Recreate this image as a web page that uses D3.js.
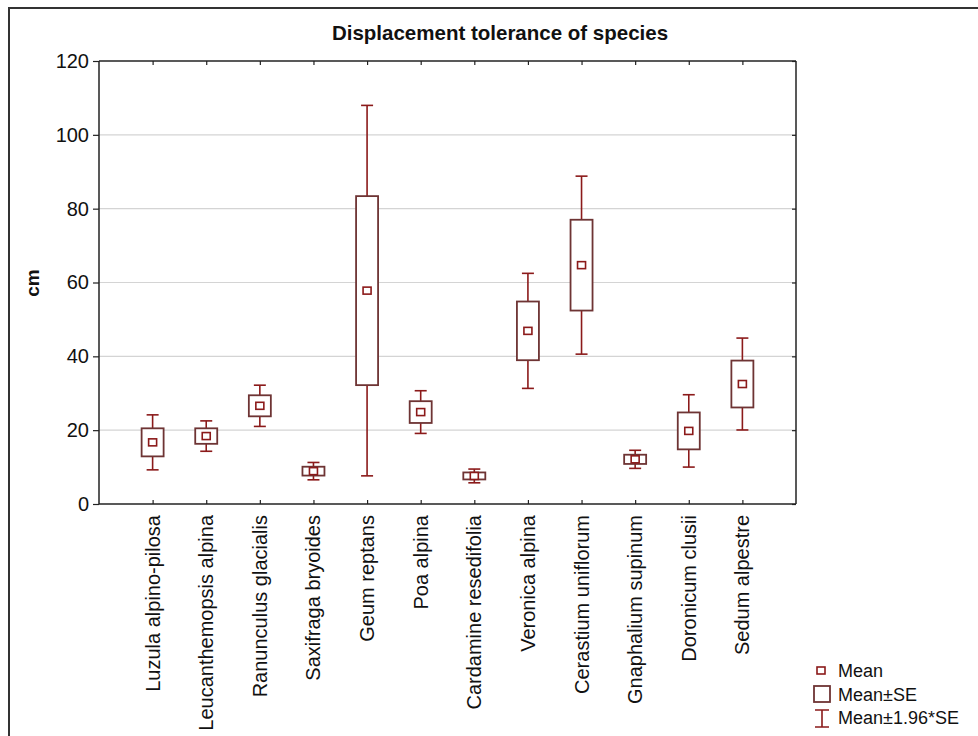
<!DOCTYPE html>
<html>
<head>
<meta charset="utf-8">
<script src="https://cdn.jsdelivr.net/npm/d3@7"></script>
<style>
  body { margin: 0; background: #fff; }
  text { font-family: 'Liberation Sans', Arial, sans-serif; fill: #111; }
</style>
</head>
<body>
<script>
const species = ['Luzula alpino-pilosa', 'Leucanthemopsis alpina', 'Ranunculus glacialis', 'Saxifraga bryoides',
  'Geum reptans', 'Poa alpina', 'Cardamine resedifolia', 'Veronica alpina', 'Cerastium uniflorum',
  'Gnaphalium supinum', 'Doronicum clusii', 'Sedum alpestre'];
const means = [16.7, 18.4, 26.6, 8.9, 57.8, 24.9, 7.6, 46.9, 64.7, 12.1, 19.8, 32.5];
const se = [3.8, 2.1, 2.85, 1.2, 25.6, 2.95, 0.95, 7.95, 12.3, 1.25, 5.0, 6.35];
const yTicks = [0, 20, 40, 60, 80, 100, 120];
const legendLabels = ['Mean', 'Mean±SE', 'Mean±1.96*SE'];

const width = 978;
const height = 736;
const boxColor = '#6e3434';
const whiskColor = '#8b1a1a';

let data = species.map((s, i) => ({ name: s, mean: means[i], se: se[i] }));

let svg = d3.select('body').append('svg')
  .attr('width', width)
  .attr('height', height);

// outer frame (only left and top visible in the picture)
svg.append('path')
  .attr('d', 'M9,' + height + ' V8 H' + width)
  .attr('fill', 'none')
  .attr('stroke', '#333')
  .attr('stroke-width', 2);

let x = d3.scalePoint().domain(species).range([99, 796]).padding(1);
let y = d3.scaleLinear().domain([0, 120]).range([504, 61]);

// gridlines
svg.append('g')
  .selectAll('line')
  .data(yTicks.filter(t => t > 0 && t < 120))
  .enter().append('line')
  .attr('x1', 99).attr('x2', 796)
  .attr('y1', d => y(d)).attr('y2', d => y(d))
  .attr('stroke', '#d4d4d4')
  .attr('stroke-width', 1.2);

// axes
let yAxis = svg.append('g')
  .attr('transform', 'translate(99,0)')
  .call(d3.axisLeft(y).tickValues(yTicks).tickSize(6).tickPadding(4));
yAxis.selectAll('text').style('font-size', '20px');

let yRight = svg.append('g')
  .attr('transform', 'translate(796,0)')
  .call(d3.axisLeft(y).tickValues(yTicks).tickSize(4).tickFormat(''));

let xBottom = svg.append('g')
  .attr('transform', 'translate(0,504)')
  .call(d3.axisTop(x).tickSize(4).tickFormat(''));

let xTop = svg.append('g')
  .attr('transform', 'translate(0,61)')
  .call(d3.axisBottom(x).tickSize(4).tickFormat(''));

[yAxis, yRight, xBottom, xTop].forEach(g => {
  g.selectAll('.domain').attr('stroke', '#222').attr('stroke-width', 1.5);
  g.selectAll('.tick line').attr('stroke', '#222').attr('stroke-width', 1.2);
});
yAxis.selectAll('.domain').attr('d', 'M0,61V504');
yRight.selectAll('.domain').attr('d', 'M0,61V504');
xBottom.selectAll('.domain').attr('d', 'M99,0H796');
xTop.selectAll('.domain').attr('d', 'M99,0H796');

// x labels, rotated
svg.append('g')
  .selectAll('text')
  .data(species)
  .enter().append('text')
  .attr('transform', d => 'translate(' + (x(d) + 7) + ',515) rotate(-90)')
  .attr('text-anchor', 'end')
  .style('font-size', '20px')
  .text(d => d);

// title and y label
svg.append('text')
  .attr('x', 500).attr('y', 40)
  .attr('text-anchor', 'middle')
  .style('font-size', '20.5px')
  .style('font-weight', 'bold')
  .text('Displacement tolerance of species');

svg.append('text')
  .attr('transform', 'translate(39,283) rotate(-90)')
  .attr('text-anchor', 'middle')
  .style('font-size', '19px')
  .style('font-weight', 'bold')
  .text('cm');

// whiskers
let groups = svg.append('g')
  .selectAll('.species')
  .data(data)
  .enter().append('g')
  .attr('class', 'species');

groups.append('line')
  .attr('x1', d => x(d.name)).attr('x2', d => x(d.name))
  .attr('y1', d => y(d.mean + 1.96 * d.se))
  .attr('y2', d => y(d.mean - 1.96 * d.se))
  .attr('stroke', whiskColor).attr('stroke-width', 1.6);

[1, -1].forEach(k => {
  groups.append('line')
    .attr('x1', d => x(d.name) - 6).attr('x2', d => x(d.name) + 6)
    .attr('y1', d => y(d.mean + k * 1.96 * d.se))
    .attr('y2', d => y(d.mean + k * 1.96 * d.se))
    .attr('stroke', whiskColor).attr('stroke-width', 1.6);
});

groups.append('rect')
  .attr('x', d => x(d.name) - 11)
  .attr('width', 22)
  .attr('y', d => y(d.mean + d.se))
  .attr('height', d => y(d.mean - d.se) - y(d.mean + d.se))
  .attr('fill', '#fff')
  .attr('stroke', boxColor).attr('stroke-width', 1.8);

groups.append('rect')
  .attr('x', d => x(d.name) - 4)
  .attr('y', d => y(d.mean) - 3.5)
  .attr('width', 8).attr('height', 7)
  .attr('fill', '#fff')
  .attr('stroke', whiskColor).attr('stroke-width', 1.6);

// legend
let legend = svg.append('g');
legend.append('rect')
  .attr('x', 817).attr('y', 667).attr('width', 8).attr('height', 7)
  .attr('fill', 'none').attr('stroke', whiskColor).attr('stroke-width', 1.6);
legend.append('rect')
  .attr('x', 814).attr('y', 686).attr('width', 16).attr('height', 16)
  .attr('fill', 'none').attr('stroke', boxColor).attr('stroke-width', 1.8);
legend.append('path')
  .attr('d', 'M815,710H829M822,710V727M815,727H829')
  .attr('fill', 'none').attr('stroke', whiskColor).attr('stroke-width', 1.6);

legend.selectAll('text')
  .data(legendLabels)
  .enter().append('text')
  .attr('x', 838)
  .attr('y', (d, i) => [677, 701, 724][i])
  .style('font-size', '18px')
  .text(d => d);
</script>
</body>
</html>
